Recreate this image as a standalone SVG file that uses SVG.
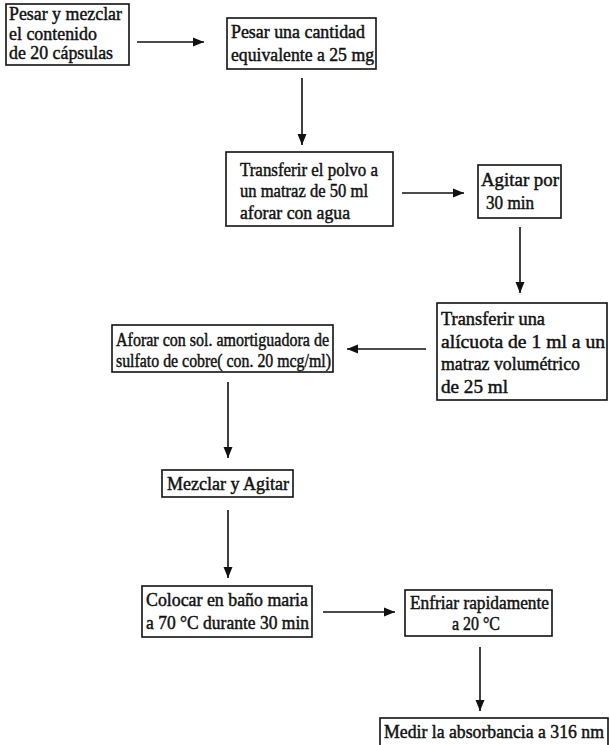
<svg xmlns="http://www.w3.org/2000/svg" width="610" height="745" viewBox="0 0 610 745">
  <style>
    .box { fill: #ffffff; stroke: #111111; stroke-width: 1.6; }
    .t { font-family: "Liberation Serif", "Times New Roman", serif; font-size: 18px; fill: #111111; stroke: #111111; stroke-width: 0.45; }
    .link { stroke: #111111; stroke-width: 1.6; fill: none; marker-end: url(#head); }
  </style>
  <defs>
    <marker id="head" markerUnits="userSpaceOnUse" markerWidth="12" markerHeight="10" refX="11" refY="5" orient="auto">
      <path d="M0,0.5 L11,5 L0,9.5 Z" fill="#111111"/>
    </marker>
  </defs>
  <rect width="610" height="745" fill="#ffffff"/>

  <!-- process steps -->
  <g id="pesar-mezclar">
    <rect class="box" x="6" y="4" width="123" height="61"/>
    <text class="t" x="9" y="20" textLength="113" lengthAdjust="spacingAndGlyphs">Pesar y mezclar</text>
    <text class="t" x="9" y="40" textLength="88" lengthAdjust="spacingAndGlyphs">el contenido</text>
    <text class="t" x="9" y="59" textLength="104" lengthAdjust="spacingAndGlyphs">de 20 cápsulas</text>
  </g>
  <g id="pesar-cantidad">
    <rect class="box" x="227" y="18" width="149" height="51"/>
    <text class="t" x="231" y="38" textLength="134" lengthAdjust="spacingAndGlyphs">Pesar una cantidad</text>
    <text class="t" x="231" y="61" textLength="143" lengthAdjust="spacingAndGlyphs">equivalente a 25 mg</text>
  </g>
  <g id="transferir-polvo">
    <rect class="box" x="226" y="152" width="167" height="74"/>
    <text class="t" x="240" y="176" textLength="138" lengthAdjust="spacingAndGlyphs">Transferir el polvo a</text>
    <text class="t" x="240" y="197" textLength="128" lengthAdjust="spacingAndGlyphs">un matraz de 50 ml</text>
    <text class="t" x="240" y="219" textLength="110" lengthAdjust="spacingAndGlyphs">aforar con agua</text>
  </g>
  <g id="agitar">
    <rect class="box" x="478" y="165" width="83" height="53"/>
    <text class="t" x="481" y="186" textLength="78" lengthAdjust="spacingAndGlyphs">Agitar por</text>
    <text class="t" x="486" y="209" textLength="48" lengthAdjust="spacingAndGlyphs">30 min</text>
  </g>
  <g id="transferir-alicuota">
    <rect class="box" x="437" y="303" width="170" height="97"/>
    <text class="t" x="441" y="325" textLength="104" lengthAdjust="spacingAndGlyphs">Transferir una</text>
    <text class="t" x="441" y="348" textLength="164" lengthAdjust="spacingAndGlyphs">alícuota de 1 ml a un</text>
    <text class="t" x="441" y="370" textLength="139" lengthAdjust="spacingAndGlyphs">matraz volumétrico</text>
    <text class="t" x="441" y="393" textLength="67" lengthAdjust="spacingAndGlyphs">de 25 ml</text>
  </g>
  <g id="aforar">
    <rect class="box" x="112" y="325" width="221" height="47"/>
    <text class="t" x="116" y="346" textLength="213" lengthAdjust="spacingAndGlyphs">Aforar con sol. amortiguadora de</text>
    <text class="t" x="116" y="367" textLength="215" lengthAdjust="spacingAndGlyphs">sulfato de cobre( con. 20 mcg/ml)</text>
  </g>
  <g id="mezclar">
    <rect class="box" x="162" y="470" width="131" height="27"/>
    <text class="t" x="167" y="490" textLength="122" lengthAdjust="spacingAndGlyphs">Mezclar y Agitar</text>
  </g>
  <g id="bano-maria">
    <rect class="box" x="142" y="586" width="170" height="51"/>
    <text class="t" x="146" y="606" textLength="162" lengthAdjust="spacingAndGlyphs">Colocar en baño maria</text>
    <text class="t" x="146" y="629" textLength="163" lengthAdjust="spacingAndGlyphs">a 70 °C durante 30 min</text>
  </g>
  <g id="enfriar">
    <rect class="box" x="405" y="590" width="147" height="46"/>
    <text class="t" x="410" y="609" textLength="139" lengthAdjust="spacingAndGlyphs">Enfriar rapidamente</text>
    <text class="t" x="452" y="630" textLength="48" lengthAdjust="spacingAndGlyphs">a 20 °C</text>
  </g>
  <g id="medir">
    <rect class="box" x="380" y="718" width="228" height="28"/>
    <text class="t" x="384" y="738" textLength="220" lengthAdjust="spacingAndGlyphs">Medir la absorbancia a 316 nm</text>
  </g>

  <!-- connectors -->
  <g id="connectors">
    <line class="link" x1="137" y1="42" x2="204" y2="42"/>
    <line class="link" x1="302" y1="78" x2="302" y2="145"/>
    <line class="link" x1="402" y1="193" x2="464" y2="193"/>
    <line class="link" x1="520" y1="227" x2="520" y2="293"/>
    <line class="link" x1="426" y1="349" x2="347" y2="349"/>
    <line class="link" x1="228" y1="382" x2="228" y2="458"/>
    <line class="link" x1="228" y1="510" x2="228" y2="578"/>
    <line class="link" x1="323" y1="612" x2="395" y2="612"/>
    <line class="link" x1="480" y1="647" x2="480" y2="711"/>
  </g>
</svg>
